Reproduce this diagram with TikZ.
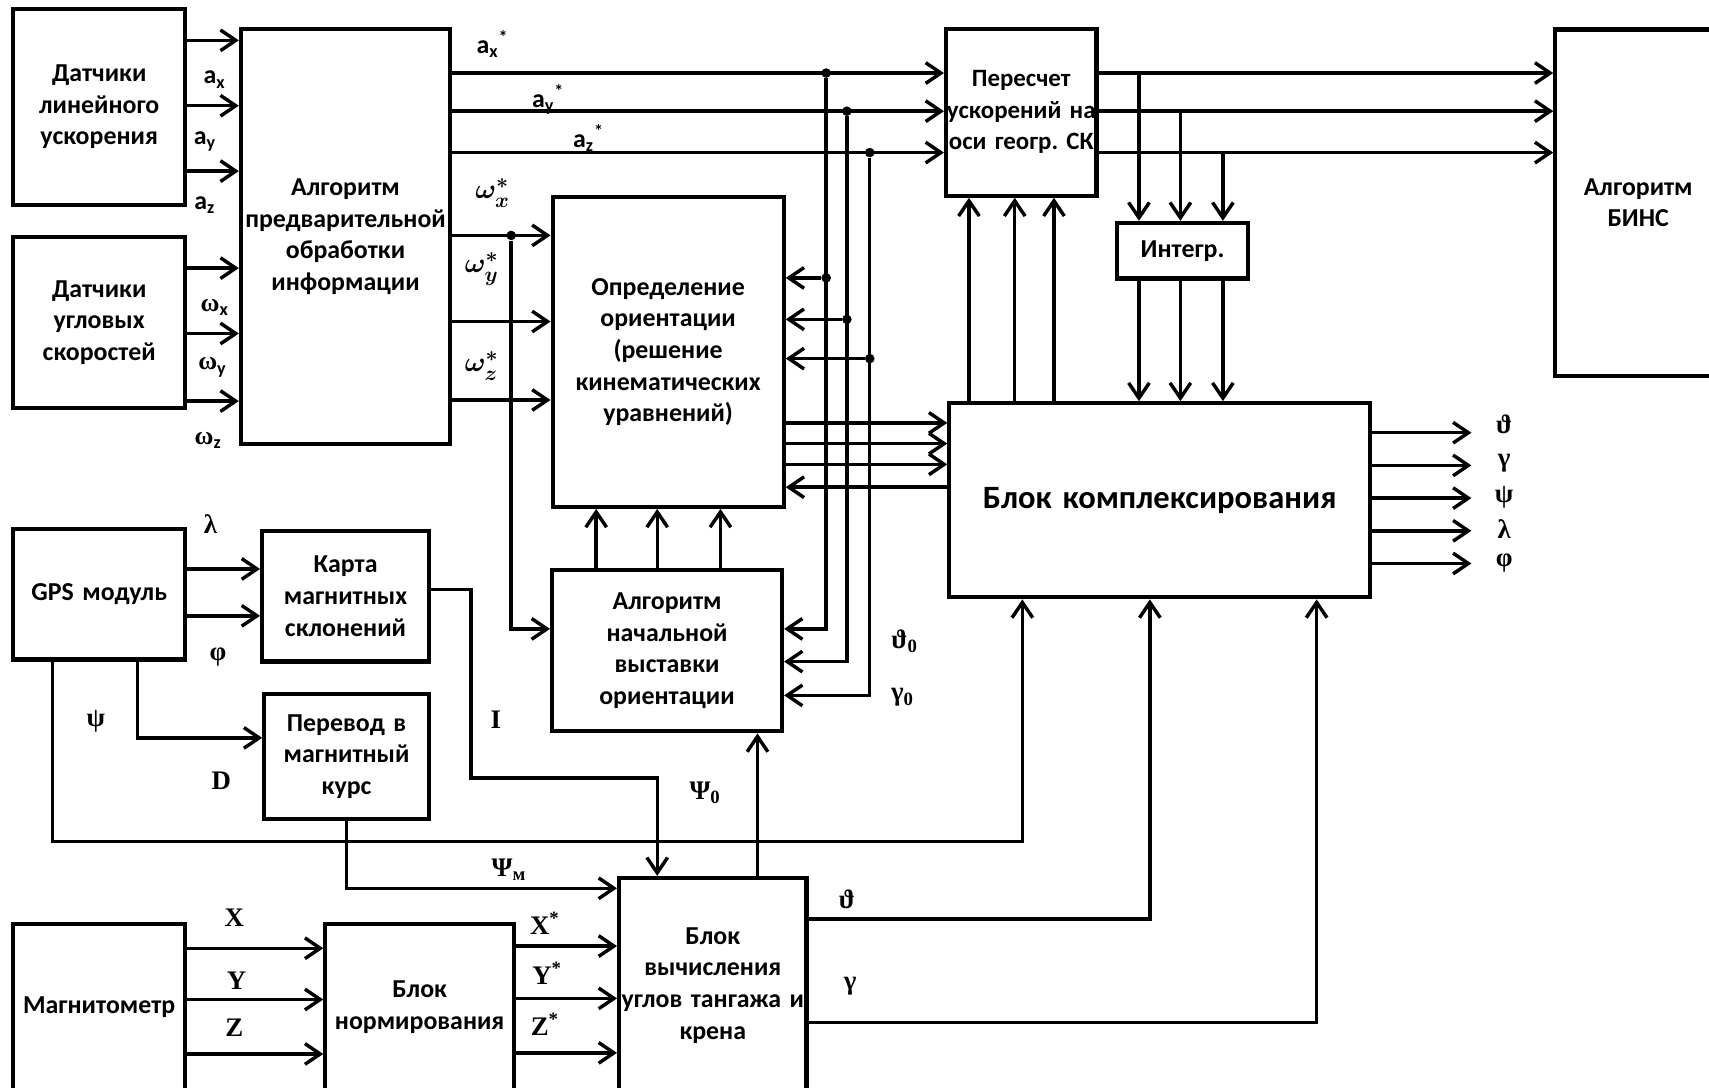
\documentclass[tikz,border=0pt]{standalone}
\usepackage{fontspec}
\usepackage{amsmath}
\setmainfont{Carlito}
\newfontfamily\tms{Liberation Serif}
\usetikzlibrary{arrows.meta}
\frenchspacing

\begin{document}
\begin{tikzpicture}[x=0.02cm,y=-0.02cm]
    \tikzstyle{blk}=[draw, line width=2.2pt, inner sep=0pt, align=center, font=\fontsize{13.5}{16.5}\selectfont\bfseries]
    \tikzstyle{ln}=[line width=1.8pt]
    \tikzstyle{arr}=[ln, -{Straight Barb[length=2.8mm,width=3.8mm,line width=1.8pt]}]
    \tikzstyle{lbl}=[inner sep=0pt, font=\fontsize{13.5}{16}\selectfont\bfseries]
    \tikzstyle{gr}=[inner sep=0pt, font=\fontsize{14}{16}\selectfont\tms\bfseries]
    \tikzstyle{dot}=[circle, fill, inner sep=0pt, minimum size=5pt]

    \useasboundingbox (0,0) rectangle (1568,998);
    \clip (0,0) rectangle (1568,998);

    % blocks
    \node[blk, text width=3.16cm, minimum height=3.6cm] (sensLin) at (91,98) {Датчики\\линейного\\ускорения};
    \node[blk, text width=3.16cm, minimum height=3.14cm] (sensAng) at (91,296) {Датчики\\угловых\\скоростей};
    \node[blk, text width=3.84cm, minimum height=7.62cm] (preproc) at (317,217) {Алгоритм\\предварительной\\обработки\\информации};
    \node[blk, text width=4.24cm, minimum height=5.68cm] (orient) at (613,323) {Определение\\ориентации\\(решение\\кинематических\\уравнений)};
    \node[blk, text width=4.22cm, minimum height=2.96cm] (align) at (612,597) {Алгоритм\\начальной\\выставки\\ориентации};
    \node[blk, text width=2.76cm, minimum height=3.06cm, font=\fontsize{13}{16.5}\selectfont\bfseries] (recalc) at (937,103) {Пересчет\\\makebox[2.76cm]{ускорений на}\\\makebox[2.76cm]{оси геогр. СК}};
    \node[blk, text width=2.4cm, minimum height=1.02cm] (integ) at (1085,230) {Интегр.};
    \node[blk, text width=3.04cm, minimum height=6.36cm] (bins) at (1503,186) {Алгоритм\\БИНС};
    \node[blk, text width=7.72cm, minimum height=3.56cm, font=\fontsize{17}{20}\selectfont\bfseries] (kompl) at (1064,459) {Блок комплексирования};
    \node[blk, text width=3.16cm, minimum height=2.4cm] (gps) at (91,545) {GPS модуль};
    \node[blk, text width=3.06cm, minimum height=2.4cm] (map) at (317,547) {Карта\\магнитных\\склонений};
    \node[blk, text width=3.02cm, minimum height=2.3cm] (conv) at (318,694) {Перевод в\\магнитный\\курс};
    \node[blk, text width=3.16cm, minimum height=3.04cm] (magn) at (91,924) {Магнитометр};
    \node[blk, text width=3.46cm, minimum height=3.04cm] (norm) at (385,924) {Блок\\нормирования};
    \node[blk, text width=3.44cm, minimum height=3.94cm] (calc) at (654,904) {Блок\\вычисления\\\makebox[3.44cm]{углов тангажа и}\\крена};

    % sensors
    \foreach \y in {37,97,157} \draw[arr] (sensLin.east |- 0,\y) -- (preproc.west |- 0,\y);
    \foreach \y in {246,306,368} \draw[arr] (sensAng.east |- 0,\y) -- (preproc.west |- 0,\y);
    \node[lbl] (lax) at (197,73) {a\textsubscript{x}};
    \node[lbl] (lay) at (188,130) {a\textsubscript{y}};
    \node[lbl] (laz) at (188,188) {a\textsubscript{z}};
    \node[lbl] (lwx) at (197,282) {{\tms ω}\textsubscript{x}};
    \node[lbl] (lwy) at (195,337) {{\tms ω}\textsubscript{y}};
    \node[lbl] (lwz) at (191,404) {{\tms ω}\textsubscript{z}};

    % accelerations
    \foreach \y in {67,102,140} \draw[arr] (preproc.east |- 0,\y) -- (recalc.west |- 0,\y);
    \node[lbl] (lax2) at (452,40) {a\textsubscript{x}\textsuperscript{*}};
    \node[lbl] (lay2) at (503,91) {a\textsubscript{y}\textsuperscript{*}};
    \node[lbl] (laz2) at (540,127) {a\textsubscript{z}\textsuperscript{*}};
    \foreach \x/\ya/\yb/\yc in {758/67/255/577, 777/102/293/607, 798/140/329/638} {
        \node[dot] (ja\x) at (\x,\ya) {};
        \node[dot] (jb\x) at (\x,\yb) {};
        \draw[arr] (jb\x) -- (orient.east |- jb\x);
        \draw[arr] (ja\x) |- (align.east |- 0,\yc);
    }

    % angular rates
    \foreach \y in {216,295,367} \draw[arr] (preproc.east |- 0,\y) -- (orient.west |- 0,\y);
    \node[dot] (jw) at (469,216) {};
    \draw[arr] (jw) |- (align.west |- 0,577);
    \node[lbl, font=\fontsize{15}{16}\selectfont] (lwx2) at (452,177) {$\boldsymbol{\omega_x^*}$};
    \node[lbl, font=\fontsize{15}{16}\selectfont] (lwy2) at (442,247) {$\boldsymbol{\omega_y^*}$};
    \node[lbl, font=\fontsize{15}{16}\selectfont] (lwz2) at (442,336) {$\boldsymbol{\omega_z^*}$};

    % orientation <-> complex
    \foreach \y in {388,407,426} \draw[arr] (orient.east |- 0,\y) -- (kompl.west |- 0,\y);
    \draw[arr] (kompl.west |- 0,447) -- (orient.east |- 0,447);
    \foreach \x in {547,603,661} \draw[arr] (align.north -| \x,0) -- (orient.south -| \x,0);
    \foreach \x in {889,931,967} \draw[arr] (kompl.north -| \x,0) -- (recalc.south -| \x,0);

    % recalc -> BINS, integrator
    \foreach \y/\x in {67/1045,102/1083,140/1122} {
        \draw[arr] (recalc.east |- 0,\y) -- (bins.west |- 0,\y);
        \draw[arr] (\x,\y) -- (integ.north -| \x,0);
        \draw[arr] (integ.south -| \x,0) -- (kompl.north -| \x,0);
    }

    % outputs
    \foreach \y/\ly/\t in {397/389/ϑ, 427/425/γ, 457/456/ψ, 487/485/λ, 517/517/φ} {
        \coordinate (out\y) at (1350,\y);
        \draw[arr] (kompl.east |- out\y) -- (out\y);
        \node[gr] (lo\y) at (1380,\ly) {\t};
    }

    % GPS
    \foreach \y in {522,565} \draw[arr] (gps.east |- 0,\y) -- (map.west |- 0,\y);
    \node[gr] (llam) at (193,481) {λ};
    \node[gr] (lphi) at (200,603) {φ};
    \draw[arr] (gps.south -| 126,0) |- (conv.west |- 0,677);
    \node[gr] (lpsi) at (88,662) {ψ};
    \node[gr] (lD) at (203,716) {D};
    \draw[arr] (gps.south -| 48,0) -- ++(0,165) -| (kompl.south -| 938,0);
    \draw[arr] (map.east |- 0,541) -| (432,714) -| (calc.north -| 603,0);
    \node[gr] (lI) at (455,660) {I};
    \draw[arr] (conv.south -| 318,0) |- (calc.west |- 0,815);
    \node[gr] (lpsm) at (467,798) {Ψ\textsubscript{м}};

    % pitch and roll
    \draw[arr] (calc.north -| 695,0) -- (align.south -| 695,0);
    \node[gr] (lps0) at (647,727) {Ψ\textsubscript{0}};
    \draw[arr] (calc.east |- 0,843) -| (kompl.south -| 1055,0);
    \draw[arr] (calc.east |- 0,938) -| (kompl.south -| 1208,0);
    \node[gr] (lth) at (777,825) {ϑ};
    \node[gr] (lga) at (780,905) {γ};
    \node[gr] (lth0) at (830,588) {ϑ\textsubscript{0}};
    \node[gr] (lga0) at (828,640) {γ\textsubscript{0}};

    % magnetometer
    \foreach \y in {870,917,967} \draw[arr] (magn.east |- 0,\y) -- (norm.west |- 0,\y);
    \foreach \y in {868,916,966} \draw[arr] (norm.east |- 0,\y) -- (calc.west |- 0,\y);
    \node[gr] (lX) at (215,842) {X};
    \node[gr] (lY) at (217,900) {Y};
    \node[gr] (lZ) at (215,943) {Z};
    \node[gr] (lX2) at (500,847) {X\textsuperscript{*}};
    \node[gr] (lY2) at (502,893) {Y\textsuperscript{*}};
    \node[gr] (lZ2) at (500,940) {Z\textsuperscript{*}};
\end{tikzpicture}
\end{document}
